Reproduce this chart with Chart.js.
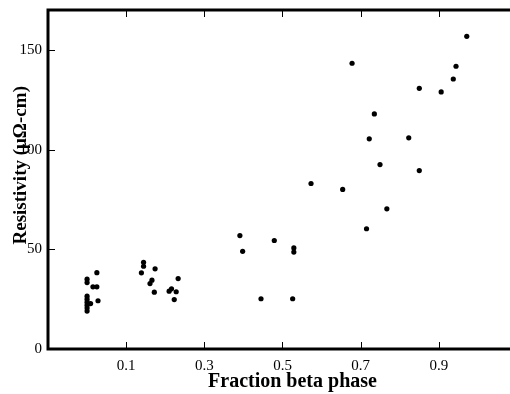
<!DOCTYPE html>
<html>
<head>
<meta charset="utf-8">
<script src="https://cdn.jsdelivr.net/npm/chart.js"></script>
<style>
  html, body { margin: 0; padding: 0; background: #fff; overflow: hidden; }
  #wrap { width: 527px; height: 394px; }
</style>
</head>
<body>
<div id="wrap"><canvas id="grafico" width="527" height="394"></canvas></div>
<script>
// Data
const fractionBeta = [
  0.0, 0.0, 0.025, 0.015, 0.025, 0.028, 0.0, 0.0, 0.0, 0.0, 0.009, 0.0, 0.0,
  0.1445, 0.1445, 0.139, 0.174, 0.166, 0.161, 0.172,
  0.233, 0.21, 0.216, 0.228, 0.223,
  0.391, 0.398, 0.479, 0.529, 0.529, 0.445, 0.526,
  0.573, 0.654, 0.715, 0.767, 0.722, 0.7495, 0.735, 0.678,
  0.823, 0.85, 0.85, 0.906, 0.937, 0.944, 0.9715
];
const resistivity = [
  35.0, 33.3, 38.3, 31.2, 31.2, 24.2, 26.5, 25.0, 23.5, 22.0, 22.8, 20.5, 19.0,
  43.5, 41.5, 38.2, 40.2, 34.5, 32.8, 28.5,
  35.3, 29.0, 30.2, 28.7, 24.8,
  56.9, 49.0, 54.4, 50.7, 48.6, 25.2, 25.2,
  83.0, 80.0, 60.3, 70.3, 105.4, 92.5, 117.9, 143.3,
  105.9, 89.5, 130.7, 128.9, 135.4, 141.8, 156.8
];
const xTickValues = [0.1, 0.3, 0.5, 0.7, 0.9];
const yTickValues = [0, 50, 100, 150];

// thick frame and inward tick marks on all four sides
const moldura = {
  id: 'moldura',
  afterDraw(chart) {
    const { ctx, chartArea: a, scales: { x, y } } = chart;
    const len = 7;
    ctx.save();
    ctx.strokeStyle = '#000';
    ctx.lineWidth = 1;
    ctx.beginPath();
    x.ticks.forEach(t => {
      const px = Math.round(x.getPixelForValue(t.value)) + 0.5;
      ctx.moveTo(px, a.bottom); ctx.lineTo(px, a.bottom - len);
      ctx.moveTo(px, a.top); ctx.lineTo(px, a.top + len);
    });
    y.ticks.forEach(t => {
      const py = Math.round(y.getPixelForValue(t.value)) + 0.5;
      ctx.moveTo(a.left, py); ctx.lineTo(a.left + len, py);
      ctx.moveTo(a.right, py); ctx.lineTo(a.right - len, py);
    });
    ctx.stroke();
    ctx.lineWidth = 3;
    ctx.strokeRect(a.left, a.top, a.right - a.left, a.bottom - a.top);
    ctx.restore();
  }
};

const fonteTick = { family: '"Liberation Serif", "Times New Roman", serif', size: 15 };
const fonteTitulo = { family: '"Liberation Serif", "Times New Roman", serif', size: 19, weight: 'bold' };

new Chart(document.getElementById('grafico').getContext('2d'), {
  type: 'scatter',
  data: {
    datasets: [{
      data: fractionBeta.map((v, i) => ({ x: v, y: resistivity[i] })),
      backgroundColor: '#000',
      borderWidth: 0,
      pointRadius: 2.6,
      pointHoverRadius: 2.6
    }]
  },
  options: {
    responsive: false,
    animation: false,
    layout: { padding: { top: 10, right: 10, left: 0, bottom: 0 } },
    plugins: { legend: { display: false }, tooltip: { enabled: false } },
    scales: {
      x: {
        type: 'linear',
        min: -0.1,
        max: 1.1,
        afterBuildTicks: axis => { axis.ticks = xTickValues.map(v => ({ value: v })); },
        afterFit: axis => { axis.height = 45; axis.paddingLeft = 0; axis.paddingRight = 0; },
        grid: { display: false, drawTicks: false },
        border: { display: false },
        ticks: { color: '#000', font: fonteTick, padding: 8, maxRotation: 0 },
        title: { display: true, text: '\u00a0\u00a0\u00a0\u00a0Fraction beta phase', color: '#000', font: { ...fonteTitulo, size: 20 }, padding: { top: 0, bottom: 0 } }
      },
      y: {
        min: 0,
        max: 170,
        afterBuildTicks: axis => { axis.ticks = yTickValues.map(v => ({ value: v })); },
        afterFit: axis => { axis.width = 48; axis.paddingTop = 0; axis.paddingBottom = 0; },
        grid: { display: false, drawTicks: false },
        border: { display: false },
        ticks: { color: '#000', font: fonteTick, padding: 6 },
        title: { display: true, text: '\u00a0\u00a0\u00a0\u00a0\u00a0\u00a0Resistivity (μΩ-cm)', color: '#000', font: fonteTitulo, padding: { top: 10, bottom: 0 } }
      }
    }
  },
  plugins: [moldura]
});
</script>
</body>
</html>
